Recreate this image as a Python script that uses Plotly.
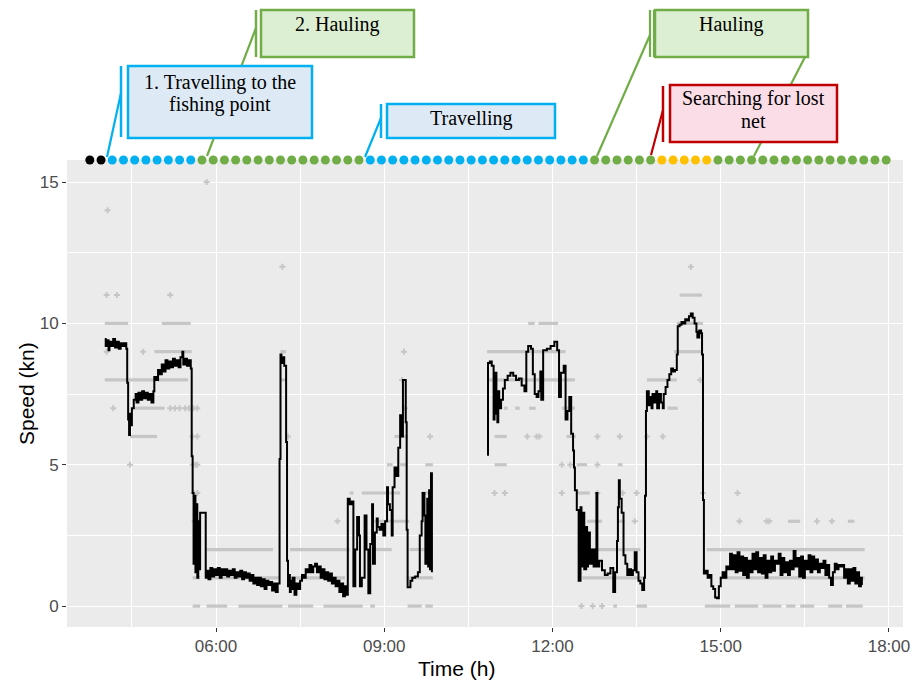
import plotly.graph_objects as go

DAY = "2021-06-01 "

# ---------------- data ----------------
line_time = [
    "04:01","04:02","04:03","04:05","04:06","04:08","04:10","04:12","04:14","04:16","04:18","04:20","04:22","04:24",
    "04:25","04:26","04:27","04:28","04:29","04:30","04:32","04:34","04:35","04:37","04:39","04:41","04:43","04:45",
    "04:47","04:49","04:51","04:53","04:54","04:56","04:58","05:00","05:02","05:04","05:06","05:08","05:10","05:12",
    "05:14","05:16","05:18","05:20","05:22","05:24","05:25","05:27","05:29","05:31","05:33","05:34","05:35","05:36",
    "05:37","05:38","05:39","05:40","05:41","05:42","05:43","05:49","05:51","05:52","05:54","05:56","05:58","06:00",
    "06:02","06:04","06:06","06:08","06:10","06:12","06:14","06:16","06:18","06:20","06:22","06:24","06:26","06:28",
    "06:30","06:32","06:34","06:36","06:38","06:40","06:42","06:44","06:46","06:48","06:50","06:52","06:54","06:56",
    "06:58","07:00","07:02","07:04","07:06","07:08","07:09","07:10","07:11","07:13","07:15","07:16","07:17","07:18",
    "07:19","07:20","07:21","07:22","07:24","07:26","07:28","07:30","07:32","07:34","07:36","07:38","07:40","07:42",
    "07:44","07:46","07:48","07:50","07:52","07:54","07:56","07:58","08:00","08:02","08:04","08:06","08:08","08:10",
    "08:12","08:14","08:16","08:18","08:19","08:21","08:23","08:25","08:27","08:29","08:31","08:33","08:34","08:36",
    "08:39","08:41","08:43","08:45","08:47","08:48","08:50","08:52","08:53","08:55","08:57","08:59","09:01","09:03",
    "09:04","09:06","09:08","09:09","09:11","09:13","09:15","09:17","09:19","09:20","09:23","09:24","09:25","09:28",
    "09:30","09:33","09:36","09:38","09:40","09:41","09:43","09:44","09:46","09:47","09:48","09:49","09:50","09:51",
    None,
    "10:50","10:51","10:53","10:55","10:57","10:58","10:59","11:00","11:01","11:02","11:03","11:05","11:07","11:09",
    "11:12","11:15","11:18","11:21","11:24","11:27","11:30","11:32","11:34","11:37","11:39","11:41","11:43","11:45",
    "11:47","11:48","11:50","11:54","11:58","12:02","12:05","12:07","12:09","12:12","12:14","12:16","12:18","12:20",
    "12:22","12:23","12:24","12:26","12:28","12:30","12:31","12:32","12:34","12:36","12:37","12:38","12:40","12:42",
    "12:44","12:46","12:47","12:48","12:50","12:53","12:56","12:59","13:02","13:05","13:07","13:09","13:10","13:11",
    "13:12","13:14","13:16","13:18","13:20","13:22","13:24","13:26","13:28","13:30","13:32","13:34","13:36","13:38",
    "13:39","13:40","13:41","13:43","13:44","13:46","13:47","13:49","13:51","13:52","13:54","13:56","13:58","13:59",
    "14:01","14:03","14:05","14:07","14:09","14:11","14:13","14:14","14:16","14:18","14:20","14:22","14:24","14:26",
    "14:28","14:30","14:32","14:34","14:35","14:37","14:39","14:40","14:41","14:42","14:44","14:46","14:48","14:50",
    "14:52","14:54","14:56","14:58","15:00","15:02","15:04","15:06","15:08","15:10","15:12","15:14","15:16","15:18",
    "15:20","15:22","15:24","15:26","15:28","15:30","15:32","15:34","15:36","15:38","15:40","15:42","15:44","15:46",
    "15:48","15:50","15:52","15:54","15:56","15:58","16:00","16:02","16:04","16:06","16:08","16:10","16:12","16:14",
    "16:16","16:18","16:20","16:22","16:24","16:26","16:28","16:30","16:32","16:34","16:36","16:38","16:40","16:42",
    "16:44","16:46","16:48","16:50","16:52","16:54","16:56","16:58","17:00","17:02","17:04","17:06","17:08","17:10",
    "17:12","17:14","17:16","17:18","17:20","17:22","17:24","17:26","17:28","17:30","17:31",
]
line_speed = [
    9.45,9.2,9.4,9.05,9.35,9.2,9.45,9.15,9.35,9.1,9.3,9.2,9.3,9.1,
    7.9,6.6,6.05,6.8,6.4,7.0,7.3,7.5,7.2,7.55,7.3,7.6,7.35,7.55,
    7.3,7.5,7.2,7.6,8.1,8.0,8.35,8.2,8.55,8.3,8.7,8.4,8.65,8.45,
    8.75,8.5,8.7,8.45,8.8,9.0,8.55,8.75,8.5,8.7,8.4,5.3,4.0,1.5,
    3.9,1.2,3.6,1.0,3.0,1.3,3.3,1.0,1.25,0.95,1.35,1.05,1.3,1.1,
    1.35,1.0,1.3,1.1,1.3,1.05,1.25,1.1,1.3,1.0,1.2,1.05,1.25,0.95,
    1.2,1.0,1.15,0.9,1.1,0.8,1.0,0.75,1.0,0.7,0.95,0.6,0.9,0.75,
    0.85,0.55,0.8,0.5,0.8,5.2,8.9,8.6,8.8,8.5,5.8,1.6,0.7,1.1,
    0.5,0.9,0.6,1.0,0.4,0.8,0.6,0.9,1.1,1.0,1.3,1.2,1.45,1.2,
    1.4,1.5,1.2,1.4,1.0,1.3,0.95,1.2,0.9,1.15,0.8,1.0,0.7,0.9,
    0.5,0.8,0.35,0.7,0.4,3.8,3.6,3.7,0.7,2.0,3.15,2.5,0.7,1.0,
    3.2,2.0,0.45,2.2,3.6,1.5,2.6,3.1,2.8,2.7,2.9,2.5,3.0,4.2,
    3.6,3.4,2.5,4.2,4.9,4.6,5.6,6.75,6.0,8.0,6.5,2.7,0.67,0.9,
    1.0,1.05,1.2,2.5,3.0,4.0,3.2,1.5,3.8,1.4,4.1,1.3,4.7,1.2,
    None,
    5.35,8.6,8.65,8.5,6.6,7.9,8.25,6.8,6.5,7.6,7.0,7.3,7.7,8.0,
    8.15,8.25,8.15,8.0,8.05,7.8,7.6,9.0,9.2,9.1,8.2,7.5,7.4,7.6,
    8.3,7.3,9.05,9.1,9.2,9.35,9.05,7.4,8.25,8.5,6.6,6.9,7.4,6.1,
    5.5,4.9,4.1,3.4,0.9,3.5,1.4,3.3,1.3,2.8,1.4,2.6,1.5,2.0,
    1.4,2.0,4.0,1.4,1.6,1.27,1.1,1.15,1.35,0.5,1.2,2.3,3.5,4.45,
    3.8,3.3,1.8,1.5,1.1,1.3,1.1,1.27,1.9,1.2,0.9,0.8,0.57,1.0,
    3.9,6.9,7.6,7.1,7.4,7.0,7.5,7.2,7.6,7.0,7.5,7.2,7.0,7.5,
    7.75,8.0,8.2,8.4,8.3,8.35,8.9,9.9,9.95,10.05,10.0,10.15,10.1,10.25,
    10.35,10.2,10.0,9.7,9.5,9.75,9.65,8.9,3.75,1.15,1.25,1.0,1.1,0.7,
    0.6,0.3,0.28,0.7,1.0,1.2,1.0,1.4,1.3,1.85,1.3,1.8,1.2,1.9,
    1.25,1.75,1.1,1.7,1.0,1.6,1.2,1.85,1.3,1.9,1.2,1.7,1.15,1.8,
    1.0,1.6,1.2,1.75,1.25,1.6,1.5,1.85,1.1,1.7,1.2,1.55,1.1,1.6,
    1.3,1.95,1.4,1.7,1.05,1.75,1.0,1.6,1.3,1.8,1.2,1.75,1.3,1.65,
    1.2,1.5,1.35,1.6,1.1,1.45,1.0,0.75,1.2,1.5,1.3,1.45,1.4,1.45,
    1.0,1.3,0.8,1.3,0.9,1.35,0.8,1.2,0.7,1.0,0.75,
]

# raw GPS speeds: horizontal runs of readings (speed level, start, end)
run_level = [10,10,9,9,8,8,7,6,6,5,5,5,4,4,4,3,2,2,2,2,1,1,1,1,0,0,0,0,0,0,0,0,
             10,10,10,11,9,9,8,8,7,7,7,7,7,7,6,6,5,5,5,4,3,3,3,3,2,2,1,1,
             0,0,0,0,0,0,0,0,0]
run_start = ["04:01","05:02","04:54","07:09","04:01","07:09","04:33","04:28","09:11","09:03","09:17","09:44",
             "08:23","08:36","09:40","08:48","05:50","07:19","08:50","09:27","05:35","05:50","07:19","09:24",
             "05:35","05:50","06:24","07:17","07:55","08:45","09:25","09:44",
             "11:34","11:45","14:13","14:16","10:50","14:10","10:50","13:41","10:57","11:08","11:20","11:35",
             "12:10","14:03","10:58","12:15","10:58","12:26","13:10","12:26","12:37","13:10","16:12","17:16",
             "12:27","14:45","12:32","14:59",
             "13:05","13:30","14:43","15:15","15:45","16:10","16:25","16:55","17:14"]
run_end = ["04:26","05:33","05:34","07:15","05:30","07:16","05:05","04:57","09:25","09:09","09:25","09:52",
           "08:27","09:17","09:49","09:27","07:01","08:23","09:08","09:52","05:43","07:08","08:18","09:52",
           "05:43","06:12","07:11","07:44","08:37","08:50","09:40","09:52",
           "11:41","12:06","14:41","14:40","12:14","14:40","12:24","14:13","11:00","11:12","11:25","11:42",
           "12:24","14:14","11:11","12:25","11:11","12:37","13:15","12:40","12:53","13:17","16:25","17:23",
           "13:34","17:34","13:37","17:34",
           "13:09","13:41","15:10","15:40","16:05","16:20","16:40","17:10","17:32"]

# raw GPS speeds: isolated readings
dot_time = ["04:04","05:50","07:11","14:28","04:03","04:14","05:11","04:03","04:42","09:21","09:19","14:38",
            "04:10","05:11","05:16","05:21","05:27","05:31","05:36","05:40","09:22",
            "05:35","05:40","07:17","09:49","11:33","11:43","11:46","12:48","13:12","13:41","13:58",
            "04:28","05:35","05:38","05:40","12:10","12:19","12:48",
            "05:36","05:40","10:58","11:09","12:10","12:48","13:15","13:30","14:41","15:18",
            "05:37","05:41","08:10","13:28","15:20","15:49","15:52","16:43","16:59",
            "12:31","12:43","12:53"]
dot_speed = [14,15,12,12,11,11,11,9,9,9,8,8,
             7,7,7,7,7,7,7,7,7,
             6,6,6,6,6,6,6,6,6,6,6,
             5,5,5,5,5,5,5,
             4,4,4,4,4,4,4,4,4,4,
             3,3,3,3,3,3,3,3,3,
             0,0,0]

# activity phases (one dot every 12 minutes)
phase_names = ["Start", "Travelling", "Hauling", "Travelling ", "Hauling ", "Searching", "Hauling  "]
phase_colors = ["#000000", "#00B0F0", "#70AD47", "#00B0F0", "#70AD47", "#FFC000", "#70AD47"]
phase_times = [
    ["03:45","03:57"],
    ["04:09","04:21","04:33","04:45","04:57","05:09","05:21","05:33"],
    ["05:45","05:57","06:09","06:21","06:33","06:45","06:57","07:09","07:21","07:33","07:45","07:57",
     "08:09","08:21","08:33"],
    ["08:45","08:57","09:09","09:21","09:33","09:45","09:57","10:09","10:21","10:33","10:45","10:57",
     "11:09","11:21","11:33","11:45","11:57","12:09","12:21","12:33"],
    ["12:45","12:57","13:09","13:21","13:33","13:45"],
    ["13:57","14:09","14:21","14:33","14:45"],
    ["14:57","15:09","15:21","15:33","15:45","15:57","16:09","16:21","16:33","16:45","16:57","17:09",
     "17:21","17:33","17:45","17:57"],
]

x_ticks = ["06:00", "09:00", "12:00", "15:00", "18:00"]
y_ticks = [0, 5, 10, 15]

# ---------------- layout geometry ----------------
W, H = 915, 685
PX_L, PX_R, PY_T, PY_B = 67, 903, 160, 627
Y_RANGE = [-0.74, 15.78]
X_RANGE = [DAY + "03:20:35", DAY + "18:15:00"]


def d(t):
    return None if t is None else DAY + t


def fx(px):
    return (px - PX_L) / (PX_R - PX_L)


def fy(py):
    return (PY_B - py) / (PY_B - PY_T)


fig = go.Figure()

# raw runs
rx, ry = [], []
for lv, s, e in zip(run_level, run_start, run_end):
    rx += [d(s), d(e), None]
    ry += [lv, lv, None]
fig.add_trace(go.Scatter(x=rx, y=ry, mode="lines", line=dict(color="#C6C6C6", width=3.2),
                         hoverinfo="skip", showlegend=False))
fig.add_trace(go.Scatter(x=[d(t) for t in dot_time], y=dot_speed, mode="markers",
                         marker=dict(symbol="cross", size=5, color="#C6C6C6"),
                         hoverinfo="skip", showlegend=False))

# smoothed speed
fig.add_trace(go.Scatter(x=[d(t) for t in line_time], y=line_speed, mode="lines",
                         line=dict(color="black", width=2, shape="hv"), connectgaps=False,
                         showlegend=False))

# phase dots at the top edge
for name, col, times in zip(phase_names, phase_colors, phase_times):
    fig.add_trace(go.Scatter(x=[d(t) for t in times], y=[Y_RANGE[1]] * len(times), mode="markers",
                             marker=dict(color=col, size=9, line=dict(width=0)),
                             cliponaxis=False, showlegend=False, name=name))

# ---------------- callouts ----------------
BLUE, GREEN, RED = "#00B0F0", "#70AD47", "#C00000"
shapes = []


def seg(x0, y0, x1, y1, col, w=2.2):
    shapes.append(dict(type="line", xref="paper", yref="paper", x0=fx(x0), y0=fy(y0),
                       x1=fx(x1), y1=fy(y1), line=dict(color=col, width=w), layer="above"))


def box(x0, y0, x1, y1, col, fill):
    shapes.append(dict(type="rect", xref="paper", yref="paper", x0=fx(x0), y0=fy(y1),
                       x1=fx(x1), y1=fy(y0), line=dict(color=col, width=2.5), fillcolor=fill,
                       layer="above"))


# leader lines hidden behind boxes first
seg(256, 28, 207, 156, GREEN)
seg(805, 57, 754, 156, GREEN)
# boxes
box(128, 66, 312, 138, BLUE, "#DDEAF6")
box(261, 10, 414, 57, GREEN, "#DCEFD2")
box(387, 104, 555, 138, BLUE, "#DDEAF6")
box(655, 10, 808, 57, GREEN, "#DCEFD2")
box(670, 85, 837, 142, RED, "#FBDDE8")
# accent bars
seg(121, 66, 121, 137, BLUE, 2.5)
seg(256, 10, 256, 57, GREEN, 2.5)
seg(381, 104, 381, 138, BLUE, 2.5)
seg(650, 10, 650, 57, GREEN, 2.2)
seg(654, 10, 654, 57, GREEN, 2.2)
seg(663, 86, 663, 142, RED, 2.5)
# other leaders
seg(121, 93, 107, 157, BLUE)
seg(381, 118, 365, 157, BLUE)
seg(650, 35, 597, 156, GREEN)
seg(663, 110, 651, 155, RED)

SERIF = "Liberation Serif, Times New Roman, serif"
SANS = "Liberation Sans, Arial, sans-serif"
annotations = []


def label(px, py, text):
    annotations.append(dict(xref="paper", yref="paper", x=fx(px), y=fy(py), text=text,
                            showarrow=False, xanchor="center", yanchor="middle",
                            font=dict(family=SERIF, size=20, color="black")))


label(220, 82, "1. Travelling to the")
label(220, 104, "fishing point")
label(337, 24, "2. Hauling")
label(471, 118, "Travelling")
label(731, 24, "Hauling")
label(753, 99, "Searching for lost")
label(753, 121, "net")

annotations.append(dict(xref="paper", yref="paper", x=fx(456), y=fy(668), text="Time (h)",
                        showarrow=False, xanchor="center", yanchor="middle",
                        font=dict(family=SANS, size=21, color="black")))
annotations.append(dict(xref="paper", yref="paper", x=fx(26), y=fy(394), text="Speed (kn)",
                        showarrow=False, xanchor="center", yanchor="middle", textangle=-90,
                        font=dict(family=SANS, size=21, color="black")))

fig.update_layout(
    width=W, height=H,
    margin=dict(l=PX_L, r=W - PX_R, t=PY_T, b=H - PY_B, pad=0, autoexpand=False),
    paper_bgcolor="white", plot_bgcolor="#EBEBEB",
    shapes=shapes, annotations=annotations,
    showlegend=False,
    font=dict(family=SANS),
)
fig.update_xaxes(
    type="date", range=X_RANGE, automargin=False,
    tickvals=[d(t) for t in x_ticks], ticktext=x_ticks,
    showgrid=True, gridcolor="white", gridwidth=1.4,
    minor=dict(dtick=5400000, tick0=DAY + "00:00", showgrid=True, gridcolor="white", gridwidth=0.6),
    ticks="outside", ticklen=4, tickcolor="#333333", tickwidth=1,
    tickfont=dict(family=SANS, size=17, color="#4D4D4D"),
    showline=False, zeroline=False,
)
fig.update_yaxes(
    range=Y_RANGE, tickvals=y_ticks, automargin=False,
    showgrid=True, gridcolor="white", gridwidth=1.4,
    minor=dict(dtick=2.5, tick0=0, showgrid=True, gridcolor="white", gridwidth=0.6),
    ticks="outside", ticklen=4, tickcolor="#333333", tickwidth=1,
    tickfont=dict(family=SANS, size=17, color="#4D4D4D"),
    showline=False, zeroline=False,
)

fig.write_html("out.html", config={"displayModeBar": False},
               post_script="document.body.style.margin='0';document.body.style.overflow='hidden';")
